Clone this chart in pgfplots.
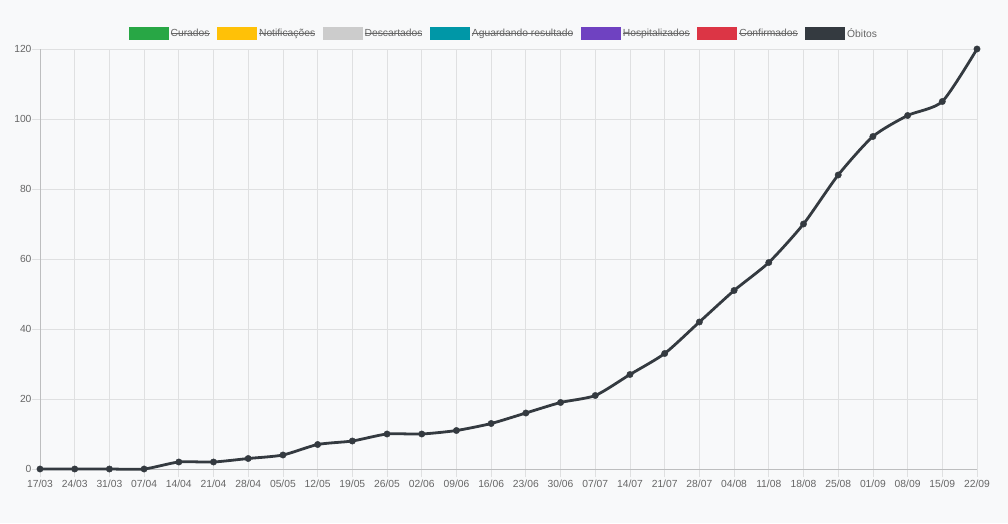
\documentclass[border=0pt]{standalone}
\usepackage{pgfplots}
\pgfplotsset{compat=1.18}
\usepackage{fontspec}
\setmainfont{Liberation Sans}
\newsavebox{\strikebox}
\newcommand{\strike}[1]{\sbox{\strikebox}{#1}\rlap{\usebox{\strikebox}}\raisebox{0.3em}{\rule{\wd\strikebox}{0.9pt}}}
\definecolor{bg}{HTML}{F8F9FA}
\definecolor{gridgray}{HTML}{DFE0E1}
\definecolor{axisgray}{HTML}{BDBEBF}
\definecolor{labelgray}{HTML}{666666}
\definecolor{cgreen}{HTML}{28A745}
\definecolor{cyellow}{HTML}{FFC107}
\definecolor{cgray}{HTML}{CCCCCC}
\definecolor{cteal}{HTML}{0097A7}
\definecolor{cpurple}{HTML}{6F42C1}
\definecolor{cred}{HTML}{DC3545}
\definecolor{cdark}{HTML}{343A40}
\pgfplotsset{legbox/.style={legend image code/.code={\fill[##1, draw=none] (0pt,-6.5pt) rectangle (40pt,6.5pt);}}}
\begin{document}
\begin{tikzpicture}
\fill[bg] (0,0) rectangle (1008pt,523pt);
\begin{axis}[
  at={(40pt,54pt)}, anchor=south west,
  scale only axis, width=937pt, height=420pt,
  xmin=0, xmax=27, ymin=0, ymax=120,
  xtick={0,...,27},
  xticklabels={17/03,24/03,31/03,07/04,14/04,21/04,28/04,05/05,12/05,19/05,26/05,02/06,09/06,16/06,23/06,30/06,07/07,14/07,21/07,28/07,04/08,11/08,18/08,25/08,01/09,08/09,15/09,22/09},
  ytick={0,20,...,120},
  axis x line*=bottom, axis y line*=left,
  axis line style={draw=axisgray, line width=1pt},
  grid=major, grid style={draw=gridgray, line width=0.8pt},
  tick align=outside, major tick length=8pt,
  tick style={draw=gridgray, line width=0.8pt},
  ticklabel style={font=\fontsize{10.3}{12}\selectfont, text=labelgray},
  yticklabel style={xshift=3pt},
  xticklabel style={yshift=1pt},
  /pgf/number format/assume math mode=true,
  clip=false,
  legend style={at={(0.495,1.036)}, anchor=center, draw=none, fill=none,
    legend columns=-1, font=\fontsize{10.3}{12}\selectfont, text=labelgray,
    /tikz/every odd column/.append style={column sep=0pt},
    /tikz/every even column/.append style={column sep=5.5pt},
    nodes={inner sep=2pt}},
]
\addlegendimage{legbox, fill=cgreen, draw=none}\addlegendentry{\strike{Curados}}
\addlegendimage{legbox, fill=cyellow, draw=none}\addlegendentry{\strike{Notificações}}
\addlegendimage{legbox, fill=cgray, draw=none}\addlegendentry{\strike{Descartados}}
\addlegendimage{legbox, fill=cteal, draw=none}\addlegendentry{\strike{Aguardando resultado}}
\addlegendimage{legbox, fill=cpurple, draw=none}\addlegendentry{\strike{Hospitalizados}}
\addlegendimage{legbox, fill=cred, draw=none}\addlegendentry{\strike{Confirmados}}
\addlegendimage{legbox, fill=cdark, draw=none}\addlegendentry{Óbitos}
\addplot[forget plot, cdark, line width=2.8pt, smooth, tension=0.4,
  mark=*, mark size=3.2pt, mark options={fill=cdark, draw=cdark, line width=0.4pt}]
  coordinates {
  (0,0) (1,0) (2,0) (3,0) (4,2) (5,2) (6,3) (7,4) (8,7) (9,8) (10,10) (11,10)
  (12,11) (13,13) (14,16) (15,19) (16,21) (17,27) (18,33) (19,42) (20,51)
  (21,59) (22,70) (23,84) (24,95) (25,101) (26,105) (27,120)};
\end{axis}
\end{tikzpicture}
\end{document}
